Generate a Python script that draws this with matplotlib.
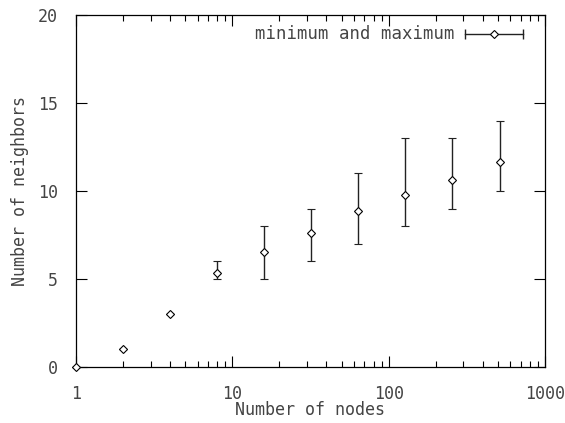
import matplotlib.pyplot as plt
import numpy as np
from matplotlib.ticker import LogLocator, NullFormatter

# number of nodes, mean/min/max neighbors
nodes = [1, 2, 4, 8, 16, 32, 64, 128, 256, 512]
mean_nb = [0, 1, 3, 5.35, 6.55, 7.6, 8.85, 9.8, 10.62, 11.65]
min_nb = [0, 1, 3, 5, 5, 6, 7, 8, 9, 10]
max_nb = [0, 1, 3, 6, 8, 9, 11, 13, 13, 14]

x_ticks = [1, 10, 100, 1000]
y_ticks = [0, 5, 10, 15, 20]

plt.rcParams['font.family'] = ['DejaVu Sans Mono']
txt = '#444444'

fig = plt.figure(figsize=(5.65, 4.23), dpi=100)
ax = fig.add_axes([0.1345, 0.1324, 0.8301, 0.8321])

mean_arr = np.array(mean_nb)
yerr = [mean_arr - np.array(min_nb), np.array(max_nb) - mean_arr]
ax.errorbar(nodes, mean_nb, yerr=yerr, fmt='D', mfc='white', mec='black',
            ms=4.5, mew=0.8, ecolor='#222222', elinewidth=1.0, capsize=3,
            capthick=1.0, clip_on=False, zorder=3)

ax.set_xscale('log')
ax.set_xlim(1, 1000)
ax.set_ylim(0, 20)
ax.set_xticks(x_ticks)
ax.set_xticklabels([str(v) for v in x_ticks])
ax.set_yticks(y_ticks)
ax.set_yticklabels([str(v) for v in y_ticks])
ax.xaxis.set_minor_locator(LogLocator(base=10, subs=np.arange(2, 10)))
ax.xaxis.set_minor_formatter(NullFormatter())

ax.tick_params(which='both', direction='in', top=True, right=True,
               labelsize=12, colors='black', labelcolor=txt, width=0.8)
ax.tick_params(which='major', length=8, pad=13)
ax.tick_params(which='minor', length=4)
for s in ax.spines.values():
    s.set_linewidth(0.9)

ax.set_xlabel('Number of nodes', fontsize=12, color=txt, va='center')
ax.set_ylabel('Number of neighbors', fontsize=12, color=txt, va='center')
ax.xaxis.set_label_coords(0.5, -0.122)
ax.yaxis.set_label_coords(-0.119, 0.5)

# gnuplot-style key: text + horizontal sample with caps and diamond
ax.text(0.808, 0.946, 'minimum and maximum', transform=ax.transAxes,
        ha='right', va='center', fontsize=12.5, color=txt)
ax.plot([0.829, 0.953], [0.946, 0.946], transform=ax.transAxes,
        color='#222222', lw=1.0)
ax.plot([0.829, 0.953], [0.946, 0.946], transform=ax.transAxes,
        ls='none', marker='|', ms=7, mew=1.0, color='#222222')
ax.plot([0.891], [0.946], transform=ax.transAxes, marker='D',
        mfc='white', mec='black', ms=4, mew=0.8)

fig.savefig('out.png', dpi=100)
